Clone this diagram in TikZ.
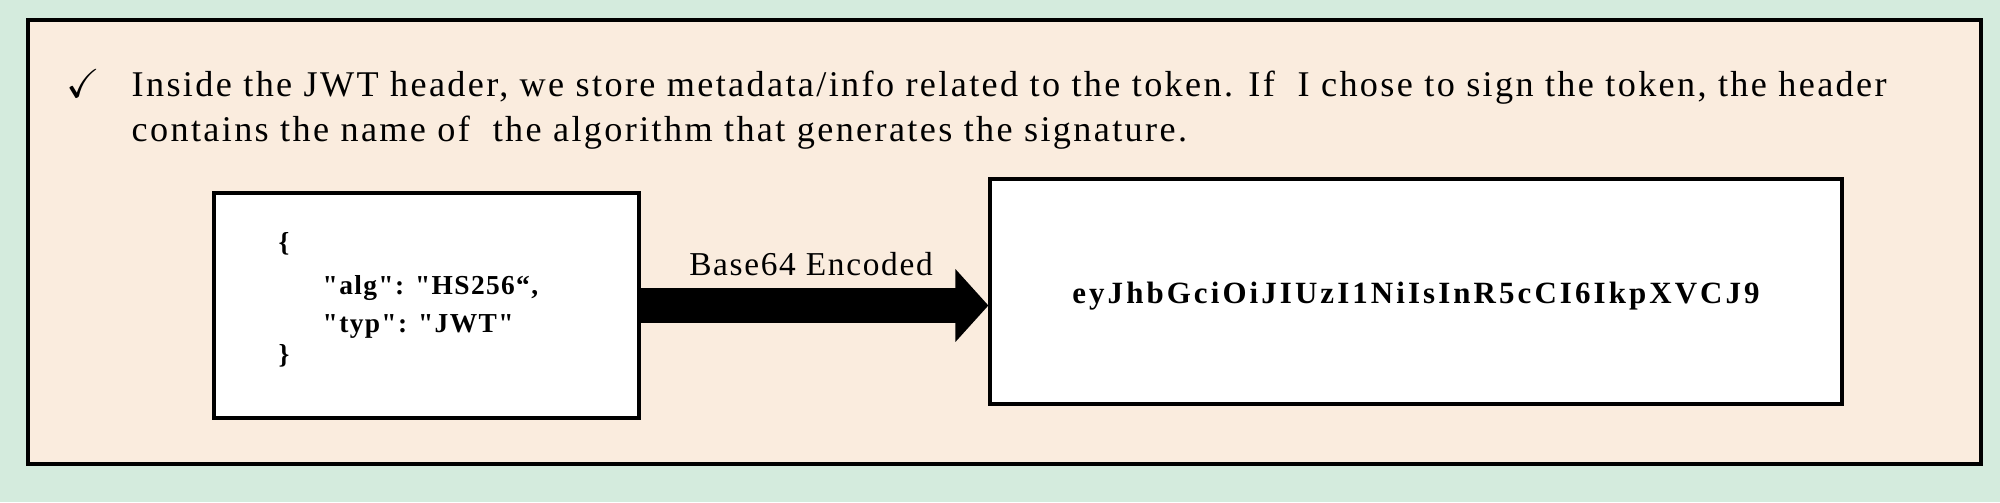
\documentclass[tikz,border=0pt]{standalone}
\usepackage{fontspec}
\setmainfont{Liberation Serif}
\newfontfamily\bodyfont[LetterSpace=6.5]{Liberation Serif}
\newfontfamily\tokfont[LetterSpace=10,Ligatures=TeXOff]{Liberation Serif}
\newfontfamily\jsonfont[LetterSpace=5,Ligatures=TeXOff]{Liberation Serif}
\newfontfamily\labfont[LetterSpace=5]{Liberation Serif}
\usepackage{amssymb}
\usetikzlibrary{arrows.meta}
\usetikzlibrary{positioning}
\definecolor{mint}{RGB}{212,235,221}
\definecolor{peach}{RGB}{250,236,222}
\tikzset{
  jbox/.style={draw, line width=0.9pt, fill=white, minimum width=4.25cm, minimum height=2.25cm, inner sep=0pt},
  jline/.style={anchor=base west, inner sep=0pt, font=\jsonfont\fontsize{7.8}{9}\selectfont\bfseries},
  bodyline/.style={anchor=base west, inner sep=0pt, font=\bodyfont\fontsize{10.3}{12}\selectfont},
}

\begin{document}
\begin{tikzpicture}
      % Background and outer frame
      \useasboundingbox[fill=mint] (0,0) rectangle (20,5.02);
      \draw[line width=0.9pt, fill=peach] (0.28,0.38) rectangle (19.81,4.82);

      % Bullet text
      \node[inner sep=0pt, scale=1.15] (tick) at (0.83,4.18) {$\checkmark$};
      \node[bodyline] (line1) at (1.31,4.05)
        {Inside the JWT header, we store metadata/info related to the token. If\ \ I chose to sign the token, the header};
      \node[bodyline] (line2) at (1.31,3.60)
        {contains the name of\ \ the algorithm that generates the signature.};

      % The two boxes
      \node[jbox] (hdr) at (4.265,1.965) {};
      \node[jbox, minimum width=8.52cm] (tok) at (14.16,2.105) {};
      \node[font=\tokfont\fontsize{8.8}{10}\selectfont\bfseries, inner sep=0pt] (tokval) at (14.16,2.06)
        {eyJhbGciOiJIUzI1NiIsInR5cCI6IkpXVCJ9};

      % Header contents
      \node[jline] (open) at (2.78,2.50) {\{};
      \node[jline] (alg) at (3.22,2.07) {"alg": "HS256“,};
      \node[jline] (typ) at (3.22,1.70) {"typ": "JWT"};
      \node[jline] (close) at (2.78,1.38) {\}};

      % Encoding arrow
      \draw[line width=3.5mm, -{Triangle[length=3.3mm,width=7.1mm]}] (hdr.east) -- (hdr.east -| tok.west);
      \node[anchor=base, font=\labfont\fontsize{9.5}{11}\selectfont] (enc) at (8.11,2.27) {Base64 Encoded};
\end{tikzpicture}
\end{document}
